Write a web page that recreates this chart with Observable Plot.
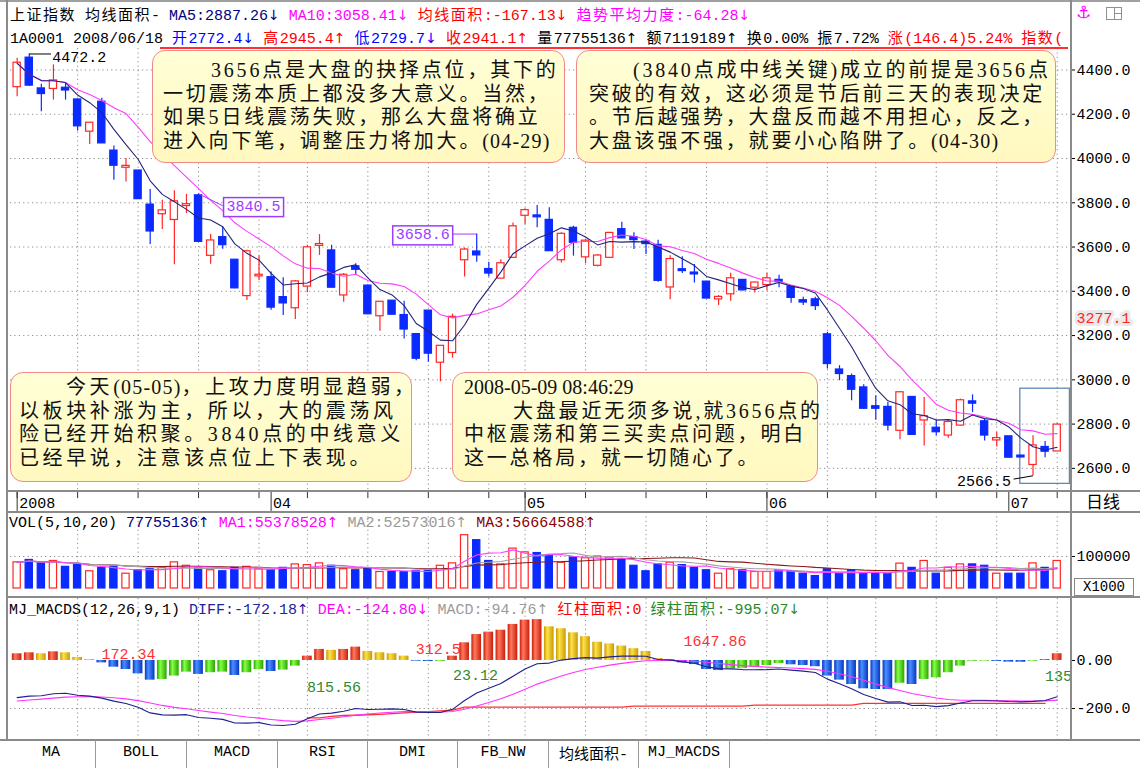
<!DOCTYPE html>
<html><head><meta charset="utf-8">
<script src="https://cdn.jsdelivr.net/npm/d3@7"></script>
<script src="https://cdn.jsdelivr.net/npm/@observablehq/plot@0.6"></script>
<style>
body{margin:0;background:#fff;}
#root{position:relative;width:1140px;height:768px;overflow:hidden;background:#fff;font-family:"Liberation Mono","DejaVu Sans Mono",monospace;color:#000;}
.ln{position:absolute;background:#8a8a8a;}
.row{position:absolute;white-space:nowrap;font-size:15px;line-height:20px;height:20px;}
.row .c{font-family:"Noto Sans CJK SC",sans-serif;letter-spacing:1.5px;}
.ar{font-family:"DejaVu Sans",sans-serif;font-size:14px;}
.note{position:absolute;box-sizing:border-box;background:linear-gradient(#ffffd6,#fff8bf);border:1.6px solid #f08a8a;border-radius:13px;font-family:"Liberation Serif","Noto Sans CJK SC",serif;font-size:20px;letter-spacing:2.8px;line-height:23.5px;white-space:nowrap;color:#111;}
.note .n{letter-spacing:1.2px;}
.tab{position:absolute;top:740px;height:28px;line-height:26px;text-align:center;font-size:15px;border-right:1px solid #9a9a9a;}
.tab .c{font-family:"Noto Sans CJK SC",sans-serif;}
</style></head>
<body><div id="root"></div>
<script>
// ---------------- data ----------------
const dates = ["2008-03-03","2008-03-04","2008-03-05","2008-03-06","2008-03-07","2008-03-10","2008-03-11","2008-03-12","2008-03-13","2008-03-14","2008-03-17","2008-03-18","2008-03-19","2008-03-20","2008-03-21","2008-03-24","2008-03-25","2008-03-26","2008-03-27","2008-03-28","2008-03-31",
"2008-04-01","2008-04-02","2008-04-03","2008-04-07","2008-04-08","2008-04-09","2008-04-10","2008-04-11","2008-04-14","2008-04-15","2008-04-16","2008-04-17","2008-04-18","2008-04-21","2008-04-22","2008-04-23","2008-04-24","2008-04-25","2008-04-28","2008-04-29","2008-04-30",
"2008-05-05","2008-05-06","2008-05-07","2008-05-08","2008-05-09","2008-05-12","2008-05-13","2008-05-14","2008-05-15","2008-05-16","2008-05-19","2008-05-20","2008-05-21","2008-05-22","2008-05-23","2008-05-26","2008-05-27","2008-05-28","2008-05-29","2008-05-30",
"2008-06-02","2008-06-03","2008-06-04","2008-06-05","2008-06-06","2008-06-10","2008-06-11","2008-06-12","2008-06-13","2008-06-16","2008-06-17","2008-06-18","2008-06-19","2008-06-20","2008-06-23","2008-06-24","2008-06-25","2008-06-26","2008-06-27","2008-06-30",
"2008-07-01","2008-07-02","2008-07-03","2008-07-04","2008-07-07"];
const open  = [4325,4453,4314,4317,4317,4264,4124,4254,4033,3961,3943,3789,3751,3725,3788,3831,3563,3642,3540,3381,3470,3461,3371,3326,3424,3608,3582,3384,3510,3423,3290,3355,3290,3204,3310,3080,3124,3543,3577,3498,3460,3554,3744,3740,3720,3543,3684,3556,3518,3554,3678,3642,3622,3607,3420,3497,3482,3441,3366,3389,3449,3419,3431,3449,3419,3357,3361,3203,3044,3014,2963,2878,2875,2772.4,2920,2819,2781,2751,2796,2900,2810,2729,2742,2655,2618,2694,2679];
const high  = [4453,4472.2,4335,4423,4340,4268,4162,4272,4057,4000,3945,3860,3811,3854,3838,3840.5,3657,3691,3541,3585,3559,3487,3461,3449,3608,3656,3608,3480,3525,3430,3350,3358,3355,3206,3312,3151,3297,3596,3658.6,3531,3543,3709,3773,3788,3777,3664,3694,3634,3566,3667,3712,3664,3634,3631,3561,3556,3521,3445,3381,3482,3452,3441,3482,3472,3421,3373,3373,3215,3064,3026,2978,2928,2898,2945.4,2923,2920,2817,2817,2913,2932,2822,2762,2744,2658,2747,2721,2802];
const low   = [4279,4325,4211,4264,4264,4124,4063,4068,3902,3894,3816,3611,3679,3520,3751,3622,3522,3590,3412,3359,3449,3314,3291,3273,3393,3562,3416,3351,3475,3294,3219,3294,3184,3086,3079,2991,3098,3465,3531,3465,3460,3554,3702,3687,3584,3528,3559,3525,3510,3554,3639,3589,3566,3441,3362,3480,3438,3367,3336,3355,3401,3392,3404,3416,3346,3336,3313,3049,2996,2905,2867,2817,2769,2729.7,2751,2701,2747,2736,2792,2852,2724,2697,2648,2650,2566.5,2648,2676];
const close = [4430,4332,4294,4350,4310,4148,4159,4071,3970,3964,3819,3673,3763,3804,3791,3626,3627,3611,3416,3578,3472,3329,3348,3442,3596,3611,3419,3472,3500,3299,3350,3297,3230,3098,3121,3151,3282,3586,3565,3483,3524,3691,3764,3737,3584,3657,3622,3626,3559,3661,3642,3634,3616,3450,3543,3494,3479,3370,3372,3456,3407,3437,3456,3444,3373,3352,3336,3074,3029,2958,2872,2872,2796,2941.1,2754,2833,2766,2807,2905,2895,2751,2734,2651,2652,2701,2678,2795];
// volume, in thousands of shares
const volume = [81700,89200,78500,86000,67700,73100,53800,64500,67700,46200,57000,60200,64500,81700,71000,62400,57000,53800,64500,67700,60200,57000,64500,75300,73100,78500,71000,60200,57000,62400,51600,51600,51600,53800,57000,71000,78500,166700,151000,86000,75300,124700,112900,110800,103200,80600,
96800,94600,100000,96800,89200,71000,53800,75300,80600,73100,64500,57000,46200,60200,57000,51600,51600,57000,53800,46200,38700,60200,46200,57000,46200,46200,46200,77755,64500,86000,46200,64500,75300,75300,71000,46200,46200,46200,78500,64500,86000];
const macdBar = [27.8,32,28,36,32,12.5,4,-10,-28,-37.5,-55.6,-82,-79,-65,-48.6,-58,-51,-48.6,-62.5,-51,-37.5,-46,-40,-23.6,18,46,42,46,55.6,37.5,32,28,18,-3,-4.5,-3.5,18,73.6,108,118,126,150,168,170,140,132,
115,99,76,69,60,49,37.5,8,4,-10,-17,-37.5,-42,-35,-33,-28,-21,-12.5,-18,-21,-26,-65,-82,-100,-118,-121,-121,-94.76,-100,-79,-72,-51,-23.6,-3,-2.5,-4,-7,-7.5,-3,4,28];
const dea = [-168.6,-164.6,-161.1,-156.6,-152.6,-151.0,-150.5,-151.8,-155.3,-160.0,-167.0,-177.2,-187.1,-195.2,-201.3,-208.5,-214.9,-221.0,-228.8,-235.2,-239.9,-245.6,-250.6,-253.6,-251.3,-245.6,-240.3,-234.6,-227.6,-222.9,-218.9,-215.4,-213.1,-213.6,-214.1,-214.6,-212.4,-203.2,-189.7,-174.9,-159.2,-140.4,-119.4,-98.4,-80.9,-64.4,
-50.0,-37.6,-28.1,-19.5,-12.0,-5.9,-1.2,-0.2,0.4,-0.9,-3.0,-7.7,-12.9,-17.3,-21.4,-24.9,-27.5,-29.0,-31.3,-33.9,-37.1,-45.2,-55.5,-68.0,-82.7,-97.8,-113.0,-124.8,-137.3,-147.2,-156.2,-162.6,-165.5,-165.9,-166.2,-166.7,-167.6,-168.5,-168.9,-168.4,-164.9];
const diff = [-154.7,-148.6,-147.1,-138.6,-136.6,-144.8,-148.5,-156.8,-169.3,-178.8,-194.8,-218.2,-226.6,-227.7,-225.6,-237.5,-240.4,-245.3,-260.0,-260.7,-258.7,-268.6,-270.6,-265.4,-242.3,-222.6,-219.3,-211.6,-199.8,-204.2,-202.9,-201.4,-204.1,-215.1,-216.4,-216.4,-203.4,-166.4,-135.7,-115.9,-96.2,-65.4,-35.4,-13.4,-10.9,1.6,
7.5,11.9,9.9,15.0,18.0,18.6,17.6,3.8,2.4,-5.9,-11.5,-26.5,-33.9,-34.8,-37.9,-38.9,-38.0,-35.3,-40.3,-44.4,-50.1,-77.7,-96.5,-118.0,-141.7,-158.3,-173.5,-172.2,-187.3,-186.7,-192.2,-188.1,-177.3,-167.4,-167.5,-168.7,-171.1,-172.3,-170.4,-166.4,-150.9];
const trendLine = [null,null,null,null,null,null,null,null,null,null,null,null,null,null,null,null,null,null,null,null,null,null,null,null,
-239,-239,-233,-229,-228,-226,-224,-221,-218,-215,-213,-210,-207,-194,-194,-194,-194,-194,-194,-194,-194,-194,-194,-194,-194,-194,-194,
-190,-190,-190,-190,-190,-190,-190,-190,-190,-190,-186,-186,-186,-186,-186,-186,-186,-186,-186,-179,-179,-179,-179,-179,-179,-179,-179,-179,-179,-179,-179,-179,-179,-179,-179];
const priceTicks = [4400,4200,4000,3800,3600,3400,3200,3000,2800,2600];
const monthLabels = ["2008","04","05","06","07"];
const priceLabelIdx = [2,16,39,85];
const priceLabelVal = [4472.2,3840.5,3658.6,2566.5];
const cursorPrice = [3277.1];
const areaLabels = ["172.34","815.56","312.56","23.12","1647.86","135"];
const areaLabelIdx = [10.2,27.2,36.2,38.9,58.7,87.1];
const areaLabelVal = [25,-112,46,-62,79,-67];
const areaLabelRed = [true,false,true,false,true,false];

// ---------------- helpers ----------------
const RED = "#ff2626", BLUE = "#0a2aff", PURPLE = "#9a3cff";
const rows = dates.map((d, j) => ({i: j + 1, date: new Date(d), o: open[j], h: high[j], l: low[j], c: close[j],
  v: volume[j], m: macdBar[j], diff: diff[j], dea: dea[j], r: trendLine[j]}));
rows.forEach((d, j) => {
  d.up = d.c >= d.o;
  const prev = j ? rows[j - 1].m : -Infinity;
  d.mcol = d.m >= 0 ? (d.m >= prev ? "red" : "gold") : (d.m <= prev ? "blue" : "green");
});
const weekIdx = rows.filter((d, j) => j === 0 || d.date.getUTCDay() < rows[j - 1].date.getUTCDay()).map(d => d.i);
const gridIdx = weekIdx.filter(i => i !== 1);
const monthRows = rows.filter((d, j) => j === 0 || d.date.getUTCMonth() !== rows[j - 1].date.getUTCMonth())
  .map((d, n) => ({i: d.i, label: monthLabels[n]}));
const lab = priceLabelIdx.map((i, n) => ({i, v: priceLabelVal[n], t: priceLabelVal[n].toFixed(1)}));
const boxedTexts = new Set([lab[1].t, lab[2].t]);
const areaRows = areaLabels.map((t, n) => ({t, i: areaLabelIdx[n], v: areaLabelVal[n], red: areaLabelRed[n]}));

const W = 1140;
const common = {width: W, marginLeft: 10, marginRight: 70, x: {domain: [0.45, 88.1], axis: null},
  color: {type: "identity"},
  style: {fontFamily: '"Liberation Mono","DejaVu Sans Mono",monospace', fontSize: "15px", background: "transparent", color: "#000"}};
const dotted = {stroke: "#8c8c8c", strokeDasharray: "1.2,3.2", strokeWidth: 1};
const root = document.getElementById("root");
function place(node, top) { node.style.position = "absolute"; node.style.left = "0px"; node.style.top = top + "px"; root.appendChild(node); return node; }

// ---------------- price panel ----------------
const pricePlot = Plot.plot({
  ...common, height: 442, marginTop: 0, marginBottom: 0,
  y: {domain: [2500, 4497], axis: null},
  marks: [
    Plot.ruleY(priceTicks, dotted),
    Plot.ruleX(gridIdx, dotted),
    Plot.rect([{a: 83.95, b: 88.05, lo: 2530, hi: 2960}], {x1: "a", x2: "b", y1: "lo", y2: "hi", fill: "none", stroke: "#5f88b8", strokeWidth: 1.3}),
    Plot.ruleX(rows, {x: "i", y1: "l", y2: "h", stroke: d => d.up ? RED : BLUE, strokeWidth: 1.2}),
    Plot.rect(rows, {x1: d => d.i - 0.3, x2: d => d.i + 0.3, y1: d => Math.min(d.o, d.c), y2: d => Math.max(d.o, d.c),
      fill: d => d.up ? "#ffffff" : BLUE, stroke: d => d.up ? RED : BLUE, strokeWidth: 1.2, insetTop: -0.6, insetBottom: -0.6}),
    Plot.lineY(rows, Plot.windowY({k: 10, anchor: "end", strict: false}, {x: "i", y: "c", stroke: "#ff3cff", strokeWidth: 1.1})),
    Plot.lineY(rows, Plot.windowY({k: 5, anchor: "end", strict: false}, {x: "i", y: "c", stroke: "#23237a", strokeWidth: 1.1})),
    Plot.link([lab[0]], {x1: "i", y1: "v", x2: d => d.i + 1.8, y2: "v", stroke: "#000"}),
    Plot.text([lab[0]], {x: "i", y: "v", text: "t", dx: 23, dy: 3, textAnchor: "start", fill: "#000"}),
    Plot.link([lab[1]], {x1: "i", y1: "v", x2: d => d.i + 2.0, y2: d => d.v - 54, stroke: PURPLE}),
    Plot.text([lab[1]], {x: "i", y: "v", text: "t", dx: 55, dy: 12, fill: PURPLE}),
    Plot.link([lab[2]], {x1: "i", y1: "v", x2: d => d.i - 2, y2: "v", stroke: PURPLE}),
    Plot.text([lab[2]], {x: "i", y: "v", text: "t", dx: -54, fill: PURPLE}),
    Plot.link([lab[3]], {x1: "i", y1: "v", x2: d => d.i - 1.6, y2: d => d.v - 15, stroke: "#000"}),
    Plot.text([lab[3]], {x: "i", y: "v", text: "t", dx: -22, dy: 5, textAnchor: "end", fill: "#000"}),
    Plot.axisY({anchor: "right", ticks: priceTicks, tickFormat: d => d.toFixed(1), tickSize: 4, tickPadding: 2, label: null}),
    Plot.text(cursorPrice, {x: 88.1, y: d => d, text: d => d.toFixed(1), dx: 6, textAnchor: "start", fill: RED, stroke: "#e9e9e9", strokeWidth: 6, paintOrder: "stroke"})
  ]
});
place(pricePlot, 48);

// ---------------- date row ----------------
const datePlot = Plot.plot({
  ...common, height: 21, marginTop: 0, marginBottom: 0,
  y: {domain: [0, 1], axis: null},
  marks: [
    Plot.ruleX(weekIdx, {y1: 1, y2: 0.66, stroke: "#333"}),
    Plot.ruleX(monthRows, {x: "i", y1: 1, y2: 0.05, stroke: "#333"}),
    Plot.text(monthRows, {x: "i", y: 0.45, text: "label", textAnchor: "start", dx: 2, fill: "#000"})
  ]
});
place(datePlot, 491);

// ---------------- volume panel ----------------
const volPlot = Plot.plot({
  ...common, height: 84, marginTop: 0, marginBottom: 8,
  y: {domain: [0, 237500], axis: null},
  marks: [
    Plot.ruleY([100000], dotted),
    Plot.ruleX(gridIdx, dotted),
    Plot.rect(rows, {x1: d => d.i - 0.3, x2: d => d.i + 0.3, y1: 0, y2: "v", fill: d => d.up ? "#ffffff" : BLUE, stroke: d => d.up ? RED : BLUE, strokeWidth: 1.2}),
    Plot.lineY(rows, Plot.windowY({k: 20, anchor: "end", strict: false}, {x: "i", y: "v", stroke: "#8b1a1a", strokeWidth: 1.1})),
    Plot.lineY(rows, Plot.windowY({k: 10, anchor: "end", strict: false}, {x: "i", y: "v", stroke: "#a3a3a3", strokeWidth: 1.1})),
    Plot.lineY(rows, Plot.windowY({k: 5, anchor: "end", strict: false}, {x: "i", y: "v", stroke: "#ff44ff", strokeWidth: 1.1})),
    Plot.axisY({anchor: "right", ticks: [100000], tickFormat: d => String(d), tickSize: 4, tickPadding: 2, label: null})
  ]
});
place(volPlot, 512);

// ---------------- MACD panel ----------------
const macdPlot = Plot.plot({
  ...common, height: 141, marginTop: 0, marginBottom: 0,
  y: {domain: [-329, 258], axis: null},
  marks: [
    Plot.ruleY([-200], dotted),
    Plot.ruleX(gridIdx, dotted),
    Plot.text(areaRows, {x: "i", y: "v", text: "t", fill: d => d.red ? "#ff3030" : "#2f8a2f"}),
    ...["red", "gold", "blue", "green"].map(c => Plot.rect(rows.filter(d => d.mcol === c),
      {x1: d => d.i - 0.4, x2: d => d.i + 0.4, y1: 0, y2: "m", fill: `url(#g-${c})`})),
    Plot.lineY(rows.filter(d => d.r != null), {x: "i", y: "r", stroke: "#ff3030", strokeWidth: 1.3}),
    Plot.lineY(rows, {x: "i", y: "dea", stroke: "#ff33ff", strokeWidth: 1.1}),
    Plot.lineY(rows, {x: "i", y: "diff", stroke: "#20208e", strokeWidth: 1.1}),
    Plot.axisY({anchor: "right", ticks: [0, -200], tickFormat: d => d === 0 ? "0.00" : d.toFixed(1), tickSize: 4, tickPadding: 2, label: null})
  ]
});
place(macdPlot, 598);
const defs = d3.select(macdPlot).insert("defs", ":first-child");
[["red", "#c81e0e", "#ff7a5c"], ["gold", "#c89a00", "#ffe24a"], ["blue", "#0636c0", "#4a90ff"], ["green", "#2aa400", "#86ff48"]].forEach(([id, dark, light]) => {
  const g = defs.append("linearGradient").attr("id", "g-" + id).attr("x1", "0").attr("x2", "1").attr("y1", "0").attr("y2", "0");
  g.append("stop").attr("offset", "0%").attr("stop-color", dark);
  g.append("stop").attr("offset", "35%").attr("stop-color", light);
  g.append("stop").attr("offset", "100%").attr("stop-color", dark);
});

// boxes round the purple price labels
for (const t of Array.from(pricePlot.querySelectorAll("text"))) {
  if (!boxedTexts.has(t.textContent.trim())) continue;
  const b = t.getBBox();
  const r = document.createElementNS("http://www.w3.org/2000/svg", "rect");
  r.setAttribute("x", b.x - 3); r.setAttribute("y", b.y - 1);
  r.setAttribute("width", b.width + 6); r.setAttribute("height", b.height + 2);
  if (t.getAttribute("transform")) r.setAttribute("transform", t.getAttribute("transform"));
  r.setAttribute("fill", "#fff"); r.setAttribute("stroke", PURPLE); r.setAttribute("stroke-width", "1.5");
  t.parentNode.insertBefore(r, t);
}

// ---------------- frame, header, notes, tabs ----------------
const up = '<span class="ar">↑</span>', dn = '<span class="ar">↓</span>';
const html = `
<div class="ln" style="left:0;top:0;width:1140px;height:2px;background:#a0a0a0"></div>
<div class="ln" style="left:6px;top:0;width:2px;height:740px;"></div>
<div class="ln" style="left:1070px;top:0;width:1.5px;height:740px;"></div>
<div class="ln" style="left:6px;top:490px;width:1134px;height:1.5px;"></div>
<div class="ln" style="left:6px;top:511px;width:1134px;height:1.5px;"></div>
<div class="ln" style="left:6px;top:596px;width:1134px;height:1.5px;"></div>
<div class="ln" style="left:0;top:739px;width:1140px;height:1.5px;"></div>
<div class="ln" style="left:160px;top:47px;width:908px;height:2px;background:#ff3030"></div>
<div class="row" style="left:10px;top:4px;"><span class="c">上证指数</span> <span class="c">均线面积</span>- <span style="color:#000080">MA5:2887.26${dn}</span> <span style="color:#ff00ff">MA10:3058.41${dn}</span> <span style="color:#ff0000"><span class="c">均线面积</span>:-167.13${dn}</span> <span style="color:#ff00ff"><span class="c">趋势平均力度</span>:-64.28${dn}</span></div>
<div class="row" style="left:10px;top:27px;">1A0001 2008/06/18 <span style="color:#0000ff"><span class="c">开</span>2772.4${dn}</span> <span style="color:#ff0000"><span class="c">高</span>2945.4${up}</span> <span style="color:#0000ff"><span class="c">低</span>2729.7${dn}</span> <span style="color:#ff0000"><span class="c">收</span>2941.1${up}</span> <span class="c">量</span>77755136${up} <span class="c">额</span>7119189${up} <span class="c">换</span>0.00% <span class="c">振</span>7.72% <span style="color:#ff0000"><span class="c">涨</span>(146.4)5.24% <span class="c">指数</span>(</span></div>
<div style="position:absolute;left:1076px;top:2px;color:#ff00ff;font-size:17px;font-family:'DejaVu Sans'">⚓</div>
<div style="position:absolute;left:1106px;top:7px;width:14px;height:11px;border:1px solid #909090;"><div style="position:absolute;left:7px;top:0;width:1px;height:11px;background:#909090"></div><div style="position:absolute;left:7px;top:5px;width:7px;height:1px;background:#909090"></div></div>
<div class="row" style="left:9px;top:512px;">VOL(5,10,20) <span style="color:#000080">77755136${up}</span> <span style="color:#ff00ff">MA1:55378528${up}</span> <span style="color:#999">MA2:52573016${up}</span> <span style="color:#8b0000">MA3:56664588${up}</span></div>
<div class="row" style="left:9px;top:598px;">MJ_MACDS(12,26,9,1) <span style="color:#22229a">DIFF:-172.18${up}</span> <span style="color:#ff00ff">DEA:-124.80${dn}</span> <span style="color:#9a9a9a">MACD:-94.76${up}</span> <span style="color:#ff0000"><span class="c">红柱面积</span>:0</span> <span style="color:#2a8a2a"><span class="c">绿柱面积</span>:-995.07${dn}</span></div>
<div style="position:absolute;left:1086px;top:491px;font-family:'Noto Sans CJK SC';font-size:17px;line-height:20px;">日线</div>
<div style="position:absolute;left:1074px;top:578px;width:58px;height:16px;border:1px solid #888;background:#fff;font-size:14px;line-height:16px;text-align:center;">X1000</div>

<div class="note" style="left:152px;top:50px;width:413px;height:113px;padding:8px 0 0 10px;">
<div style="text-indent:48px">3656点是大盘的抉择点位，其下的</div>
<div>一切震荡本质上都没多大意义。当然，</div>
<div>如果5日线震荡失败，那么大盘将确立</div>
<div>进入向下笔，调整压力将加大。<span class="n">(04-29)</span></div>
</div>
<div class="note" style="left:576px;top:50px;width:480px;height:113px;padding:8px 0 0 12px;">
<div style="text-indent:44px">(3840点成中线关键)成立的前提是3656点</div>
<div>突破的有效，这必须是节后前三天的表现决定</div>
<div>。节后越强势，大盘反而越不用担心，反之，</div>
<div>大盘该强不强，就要小心陷阱了。<span class="n">(04-30)</span></div>
</div>
<div class="note" style="left:10px;top:372px;width:402px;height:110px;padding:3px 0 0 8px;letter-spacing:3.6px;">
<div style="text-indent:47px">今天<span class="n">(05-05)</span>，上攻力度明显趋弱，</div>
<div>以板块补涨为主，所以，大的震荡风</div>
<div>险已经开始积聚。3840点的中线意义</div>
<div>已经早说，注意该点位上下表现。</div>
</div>
<div class="note" style="left:452px;top:372px;width:366px;height:110px;padding:3px 0 0 11px;">
<div style="letter-spacing:0">2008-05-09 08:46:29</div>
<div style="text-indent:49px">大盘最近无须多说,就3656点的</div>
<div>中枢震荡和第三买卖点问题，明白</div>
<div>这一总格局，就一切随心了。</div>
</div>

<div class="tab" style="left:7px;width:88px;">MA</div>
<div class="tab" style="left:96px;width:90px;">BOLL</div>
<div class="tab" style="left:187px;width:90px;">MACD</div>
<div class="tab" style="left:278px;width:89px;">RSI</div>
<div class="tab" style="left:368px;width:89px;">DMI</div>
<div class="tab" style="left:458px;width:90px;">FB_NW</div>
<div class="tab" style="left:549px;width:89px;"><span class="c">均线面积</span>-</div>
<div class="tab" style="left:639px;width:90px;">MJ_MACDS</div>
`;
root.insertAdjacentHTML("beforeend", html);
</script></body></html>
